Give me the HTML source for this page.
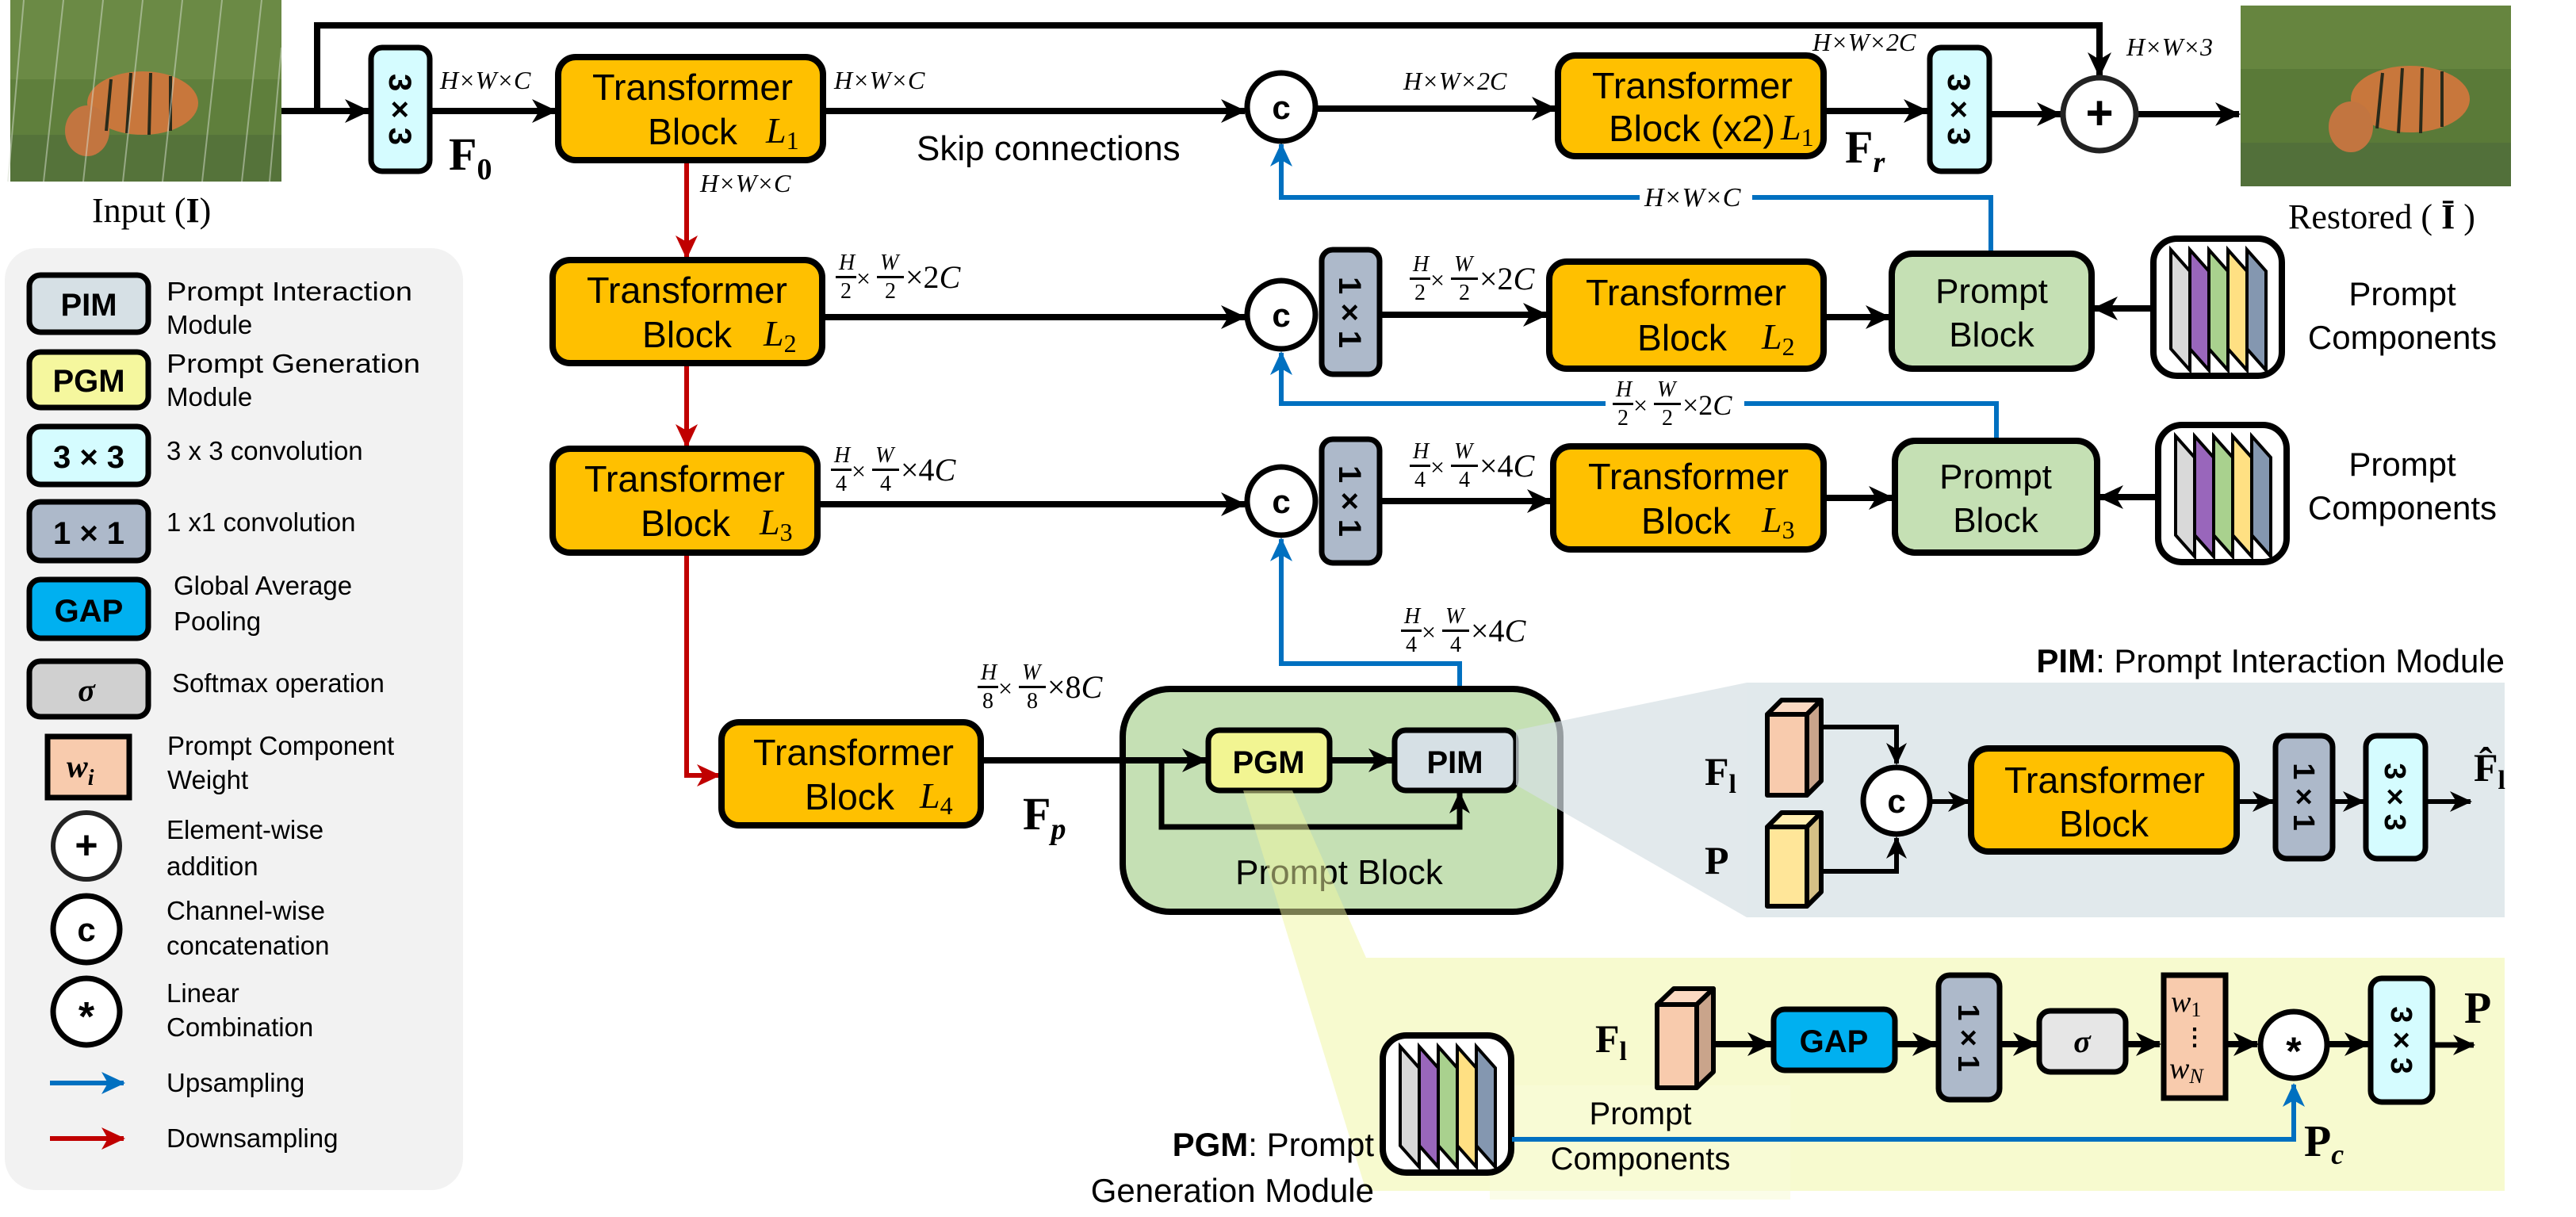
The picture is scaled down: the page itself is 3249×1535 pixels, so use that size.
<!DOCTYPE html>
<html><head><meta charset="utf-8">
<style>
html,body{margin:0;padding:0;background:#fff;}
svg{display:block;}
.s{font-family:"Liberation Sans",sans-serif;}
.m{font-family:"Liberation Serif",serif;font-style:italic;}
.b{font-family:"Liberation Serif",serif;font-weight:bold;}
</style></head><body>
<svg width="3249" height="1535" viewBox="0 0 3249 1535" xmlns="http://www.w3.org/2000/svg">
<defs>
<marker id="a" markerUnits="userSpaceOnUse" markerWidth="34" markerHeight="30" refX="30" refY="15" orient="auto"><path d="M0,0 L32,15 L0,30 L9,15z" fill="#000"/></marker>
<marker id="as" markerUnits="userSpaceOnUse" markerWidth="28" markerHeight="26" refX="26" refY="13" orient="auto"><path d="M0,0 L28,13 L0,26 L8,13z" fill="#000"/></marker>
<marker id="ab" markerUnits="userSpaceOnUse" markerWidth="30" markerHeight="28" refX="28" refY="14" orient="auto"><path d="M0,0 L30,14 L0,28 L8,14z" fill="#0070c0"/></marker>
<marker id="ar" markerUnits="userSpaceOnUse" markerWidth="30" markerHeight="28" refX="28" refY="14" orient="auto"><path d="M0,0 L30,14 L0,28 L8,14z" fill="#c00000"/></marker>
<g id="pc">
<rect x="4" y="4" width="162" height="173" rx="30" fill="#fff" stroke="#000" stroke-width="8"/>
<polygon points="26,18 50,45 50,170 26,143" fill="#d9d9d9" stroke="#000" stroke-width="4"/>
<polygon points="50,18 74,45 74,170 50,143" fill="#9966bb" stroke="#000" stroke-width="4"/>
<polygon points="74,18 98,45 98,170 74,143" fill="#a9d18e" stroke="#000" stroke-width="4"/>
<polygon points="98,18 122,45 122,170 98,143" fill="#ffe083" stroke="#000" stroke-width="4"/>
<polygon points="122,18 146,45 146,170 122,143" fill="#8497b0" stroke="#000" stroke-width="4"/>
</g>
</defs>

<!-- input image -->
<rect x="13" y="0" width="342" height="229" fill="#5f7f3c"/>
<rect x="13" y="0" width="342" height="100" fill="#6b8a45"/>
<rect x="13" y="170" width="342" height="59" fill="#55733a"/>
<ellipse cx="180" cy="130" rx="70" ry="40" fill="#c8773c"/>
<ellipse cx="110" cy="165" rx="28" ry="32" fill="#c27540"/>
<g stroke="#2a2a1a" stroke-width="4"><line x1="140" y1="100" x2="134" y2="165"/><line x1="165" y1="92" x2="160" y2="168"/><line x1="190" y1="92" x2="188" y2="170"/><line x1="215" y1="96" x2="215" y2="165"/></g>
<g stroke="#d8e0d0" stroke-width="2" opacity="0.5"><line x1="30" y1="0" x2="10" y2="229"/><line x1="80" y1="0" x2="55" y2="229"/><line x1="130" y1="0" x2="105" y2="229"/><line x1="180" y1="0" x2="155" y2="229"/><line x1="230" y1="0" x2="205" y2="229"/><line x1="280" y1="0" x2="255" y2="229"/><line x1="330" y1="0" x2="305" y2="229"/><line x1="355" y1="60" x2="340" y2="229"/></g>
<text x="116" y="280" class="b" style="font-weight:normal" font-size="44">Input (<tspan font-weight="bold">I</tspan>)</text>

<!-- restored image -->
<rect x="2826" y="7" width="341" height="228" fill="#5a7a38"/>
<rect x="2826" y="7" width="341" height="80" fill="#66853f"/>
<rect x="2826" y="180" width="341" height="55" fill="#52703a"/>
<ellipse cx="3040" cy="125" rx="75" ry="42" fill="#c8773c"/>
<ellipse cx="2965" cy="160" rx="28" ry="32" fill="#c27540"/>
<g stroke="#2a2a1a" stroke-width="4"><line x1="3005" y1="92" x2="2998" y2="162"/><line x1="3030" y1="86" x2="3025" y2="168"/><line x1="3055" y1="86" x2="3053" y2="168"/><line x1="3080" y1="90" x2="3080" y2="160"/></g>
<text x="2886" y="288" class="b" style="font-weight:normal" font-size="44">Restored ( <tspan font-weight="bold">Ī</tspan> )</text>

<!-- legend -->
<rect x="6" y="313" width="578" height="1188" rx="40" fill="#f2f2f2"/>
<rect x="37" y="347" width="150" height="72" rx="14" fill="#d6e0e5" stroke="#000" stroke-width="7"/>
<text x="112" y="398" class="s" font-size="40" font-weight="bold" text-anchor="middle">PIM</text>
<rect x="37" y="444" width="150" height="70" rx="14" fill="#f5f79e" stroke="#000" stroke-width="7"/>
<text x="112" y="494" class="s" font-size="40" font-weight="bold" text-anchor="middle">PGM</text>
<rect x="37" y="538" width="150" height="73" rx="14" fill="#d5fcff" stroke="#000" stroke-width="7"/>
<text x="112" y="590" class="s" font-size="40" font-weight="bold" text-anchor="middle">3 × 3</text>
<rect x="37" y="633" width="150" height="74" rx="14" fill="#adb9ca" stroke="#000" stroke-width="7"/>
<text x="112" y="686" class="s" font-size="40" font-weight="bold" text-anchor="middle">1 × 1</text>
<rect x="37" y="731" width="150" height="74" rx="14" fill="#00b0f0" stroke="#000" stroke-width="7"/>
<text x="112" y="784" class="s" font-size="40" font-weight="bold" text-anchor="middle">GAP</text>
<rect x="37" y="834" width="150" height="70" rx="14" fill="#d0d0d0" stroke="#000" stroke-width="7"/>
<text x="109" y="884" class="b" font-style="italic" font-size="40" text-anchor="middle">σ</text>
<rect x="60" y="929" width="103" height="77" fill="#f8cbad" stroke="#000" stroke-width="7"/>
<text x="84" y="980" class="b" font-style="italic" font-size="40">w<tspan font-size="28" dy="10">i</tspan></text>
<circle cx="109" cy="1067" r="42" fill="#fff" stroke="#222" stroke-width="6"/>
<text x="109" y="1083" class="s" font-size="50" font-weight="bold" text-anchor="middle">+</text>
<circle cx="109" cy="1172" r="42" fill="#fff" stroke="#000" stroke-width="7"/>
<text x="109" y="1187" class="s" font-size="42" font-weight="bold" text-anchor="middle">c</text>
<circle cx="109" cy="1276" r="42" fill="#fff" stroke="#000" stroke-width="7"/>
<text x="109" y="1300" class="s" font-size="52" font-weight="bold" text-anchor="middle">*</text>
<line x1="63" y1="1366" x2="156" y2="1366" stroke="#0070c0" stroke-width="6" marker-end="url(#ab)"/>
<line x1="63" y1="1436" x2="156" y2="1436" stroke="#c00000" stroke-width="6" marker-end="url(#ar)"/>
<g class="s" font-size="33">
<text x="210" y="379" textLength="310" lengthAdjust="spacingAndGlyphs">Prompt Interaction</text><text x="210" y="421">Module</text>
<text x="210" y="470" textLength="320" lengthAdjust="spacingAndGlyphs">Prompt Generation</text><text x="210" y="512">Module</text>
<text x="210" y="580">3 x 3 convolution</text>
<text x="210" y="670">1 x1 convolution</text>
<text x="219" y="750">Global Average</text><text x="219" y="795">Pooling</text>
<text x="217" y="873">Softmax operation</text>
<text x="211" y="952">Prompt Component</text><text x="211" y="995">Weight</text>
<text x="210" y="1058">Element-wise</text><text x="210" y="1104">addition</text>
<text x="210" y="1160">Channel-wise</text><text x="210" y="1204">concatenation</text>
<text x="210" y="1264">Linear</text><text x="210" y="1307">Combination</text>
<text x="210" y="1377">Upsampling</text>
<text x="210" y="1447">Downsampling</text>
</g>

<!-- top row connectors -->
<path d="M355,140 H465" stroke="#000" stroke-width="8" fill="none" marker-end="url(#a)"/>
<path d="M400,140 V32 H2648 V96" stroke="#000" stroke-width="8" fill="none" marker-end="url(#a)"/>
<path d="M542,140 H701" stroke="#000" stroke-width="8" fill="none" marker-end="url(#a)"/>
<path d="M1038,140 H1570" stroke="#000" stroke-width="8" fill="none" marker-end="url(#a)"/>
<path d="M1660,137 H1962" stroke="#000" stroke-width="8" fill="none" marker-end="url(#a)"/>
<path d="M2300,140 H2431" stroke="#000" stroke-width="8" fill="none" marker-end="url(#a)"/>
<path d="M2509,144 H2599" stroke="#000" stroke-width="8" fill="none" marker-end="url(#a)"/>
<path d="M2694,144 H2824" stroke="#000" stroke-width="8" fill="none" marker-end="url(#a)"/>

<!-- red downsampling -->
<path d="M866,202 V325" stroke="#c00000" stroke-width="6" fill="none" marker-end="url(#ar)"/>
<path d="M866,458 V563" stroke="#c00000" stroke-width="6" fill="none" marker-end="url(#ar)"/>
<path d="M866,697 V978 H907" stroke="#c00000" stroke-width="6" fill="none" marker-end="url(#ar)"/>

<!-- blue upsampling -->
<path d="M2511,320 V249 H2210 M2068,249 H1616 V182" stroke="#0070c0" stroke-width="6" fill="none" marker-end="url(#ab)"/>
<path d="M2518,556 V509 H2200 M2025,509 H1616 V445" stroke="#0070c0" stroke-width="6" fill="none" marker-end="url(#ab)"/>
<path d="M1841,915 V837 H1616 V680" stroke="#0070c0" stroke-width="6" fill="none" marker-end="url(#ab)"/>

<!-- row connectors -->
<path d="M1037,400 H1570" stroke="#000" stroke-width="8" fill="none" marker-end="url(#a)"/>
<path d="M1740,397 H1951" stroke="#000" stroke-width="8" fill="none" marker-end="url(#a)"/>
<path d="M2300,400 H2383" stroke="#000" stroke-width="8" fill="none" marker-end="url(#a)"/>
<path d="M2712,389 H2641" stroke="#000" stroke-width="8" fill="none" marker-end="url(#a)"/>
<path d="M1031,636 H1570" stroke="#000" stroke-width="8" fill="none" marker-end="url(#a)"/>
<path d="M1740,632 H1956" stroke="#000" stroke-width="8" fill="none" marker-end="url(#a)"/>
<path d="M2300,628 H2387" stroke="#000" stroke-width="8" fill="none" marker-end="url(#a)"/>
<path d="M2718,627 H2648" stroke="#000" stroke-width="8" fill="none" marker-end="url(#a)"/>

<!-- conv boxes row 1 -->
<rect x="468" y="60" width="74" height="156" rx="14" fill="#d5fcff" stroke="#000" stroke-width="7"/>
<text transform="translate(505,138) rotate(90)" class="s" font-size="40" font-weight="bold" text-anchor="middle" dy="14">3 × 3</text>
<rect x="2434" y="60" width="75" height="156" rx="14" fill="#d5fcff" stroke="#000" stroke-width="7"/>
<text transform="translate(2471,138) rotate(90)" class="s" font-size="40" font-weight="bold" text-anchor="middle" dy="14">3 × 3</text>

<!-- transformer blocks -->
<rect x="704" y="72" width="334" height="130" rx="22" fill="#ffc000" stroke="#000" stroke-width="8"/>
<text x="747" y="126" class="s" font-size="46" textLength="253" lengthAdjust="spacingAndGlyphs">Transformer</text>
<text x="817" y="182" class="s" font-size="46" textLength="113" lengthAdjust="spacingAndGlyphs">Block</text>
<text x="966" y="180" class="m" font-size="46">L<tspan font-size="32" dy="8" font-style="normal">1</tspan></text>

<rect x="697" y="328" width="340" height="130" rx="22" fill="#ffc000" stroke="#000" stroke-width="8"/>
<text x="740" y="382" class="s" font-size="46" textLength="253" lengthAdjust="spacingAndGlyphs">Transformer</text>
<text x="810" y="438" class="s" font-size="46" textLength="113" lengthAdjust="spacingAndGlyphs">Block</text>
<text x="963" y="436" class="m" font-size="46">L<tspan font-size="32" dy="8" font-style="normal">2</tspan></text>

<rect x="697" y="566" width="334" height="131" rx="22" fill="#ffc000" stroke="#000" stroke-width="8"/>
<text x="737" y="620" class="s" font-size="46" textLength="253" lengthAdjust="spacingAndGlyphs">Transformer</text>
<text x="808" y="676" class="s" font-size="46" textLength="113" lengthAdjust="spacingAndGlyphs">Block</text>
<text x="958" y="674" class="m" font-size="46">L<tspan font-size="32" dy="8" font-style="normal">3</tspan></text>

<rect x="910" y="911" width="327" height="130" rx="22" fill="#ffc000" stroke="#000" stroke-width="8"/>
<text x="950" y="965" class="s" font-size="46" textLength="253" lengthAdjust="spacingAndGlyphs">Transformer</text>
<text x="1015" y="1021" class="s" font-size="46" textLength="113" lengthAdjust="spacingAndGlyphs">Block</text>
<text x="1160" y="1019" class="m" font-size="46">L<tspan font-size="32" dy="8" font-style="normal">4</tspan></text>

<rect x="1965" y="70" width="335" height="127" rx="22" fill="#ffc000" stroke="#000" stroke-width="8"/>
<text x="2008" y="124" class="s" font-size="46" textLength="253" lengthAdjust="spacingAndGlyphs">Transformer</text>
<text x="2029" y="178" class="s" font-size="46" textLength="210" lengthAdjust="spacingAndGlyphs">Block (x2)</text>
<text x="2246" y="176" class="m" font-size="46">L<tspan font-size="32" dy="8" font-style="normal">1</tspan></text>

<rect x="1954" y="330" width="346" height="135" rx="22" fill="#ffc000" stroke="#000" stroke-width="8"/>
<text x="2000" y="385" class="s" font-size="46" textLength="253" lengthAdjust="spacingAndGlyphs">Transformer</text>
<text x="2065" y="442" class="s" font-size="46" textLength="113" lengthAdjust="spacingAndGlyphs">Block</text>
<text x="2222" y="440" class="m" font-size="46">L<tspan font-size="32" dy="8" font-style="normal">2</tspan></text>

<rect x="1959" y="563" width="341" height="130" rx="22" fill="#ffc000" stroke="#000" stroke-width="8"/>
<text x="2003" y="617" class="s" font-size="46" textLength="253" lengthAdjust="spacingAndGlyphs">Transformer</text>
<text x="2070" y="673" class="s" font-size="46" textLength="113" lengthAdjust="spacingAndGlyphs">Block</text>
<text x="2222" y="671" class="m" font-size="46">L<tspan font-size="32" dy="8" font-style="normal">3</tspan></text>

<!-- concat circles & 1x1 -->
<circle cx="1616" cy="135" r="43" fill="#fff" stroke="#000" stroke-width="7"/>
<text x="1616" y="150" class="s" font-size="42" font-weight="bold" text-anchor="middle">c</text>
<circle cx="1616" cy="397" r="43" fill="#fff" stroke="#000" stroke-width="7"/>
<text x="1616" y="412" class="s" font-size="42" font-weight="bold" text-anchor="middle">c</text>
<circle cx="1616" cy="632" r="43" fill="#fff" stroke="#000" stroke-width="7"/>
<text x="1616" y="647" class="s" font-size="42" font-weight="bold" text-anchor="middle">c</text>
<rect x="1667" y="315" width="73" height="157" rx="14" fill="#adb9ca" stroke="#000" stroke-width="7"/>
<text transform="translate(1703,394) rotate(90)" class="s" font-size="40" font-weight="bold" text-anchor="middle" dy="14">1 × 1</text>
<rect x="1667" y="554" width="73" height="156" rx="14" fill="#adb9ca" stroke="#000" stroke-width="7"/>
<text transform="translate(1703,632) rotate(90)" class="s" font-size="40" font-weight="bold" text-anchor="middle" dy="14">1 × 1</text>

<circle cx="2648" cy="144" r="46" fill="#fff" stroke="#222" stroke-width="7"/>
<text x="2648" y="163" class="s" font-size="60" font-weight="bold" text-anchor="middle">+</text>

<!-- prompt blocks -->
<rect x="2386" y="320" width="252" height="145" rx="26" fill="#c5e0b4" stroke="#000" stroke-width="8"/>
<text x="2512" y="382" class="s" font-size="44" text-anchor="middle">Prompt</text>
<text x="2512" y="437" class="s" font-size="44" text-anchor="middle">Block</text>
<rect x="2390" y="556" width="255" height="141" rx="26" fill="#c5e0b4" stroke="#000" stroke-width="8"/>
<text x="2517" y="616" class="s" font-size="44" text-anchor="middle">Prompt</text>
<text x="2517" y="671" class="s" font-size="44" text-anchor="middle">Block</text>
<use href="#pc" x="2712" y="297"/>
<use href="#pc" x="2718" y="532"/>
<g class="s" font-size="42" text-anchor="middle">
<text x="3030" y="385">Prompt</text><text x="3030" y="440">Components</text>
<text x="3030" y="600">Prompt</text><text x="3030" y="655">Components</text>
</g>

<!-- dimension labels -->
<g class="m" font-size="32">
<text x="555" y="112">H×W×C</text>
<text x="1052" y="112">H×W×C</text>
<text x="883" y="242">H×W×C</text>
<text x="1770" y="113">H×W×2C</text>
<text x="2286" y="64">H×W×2C</text>
<text x="2682" y="70">H×W×3</text>
<text x="2074" y="260" font-size="34">H×W×C</text>
</g>
<text x="1156" y="202" class="s" font-size="44">Skip connections</text>
<text x="566" y="214" class="b" font-size="58">F<tspan font-size="38" dy="12">0</tspan></text>
<text x="2327" y="205" class="b" font-size="58">F<tspan font-size="38" dy="12" font-style="italic">r</tspan></text>
<text x="1290" y="1046" class="b" font-size="58">F<tspan font-size="38" dy="12" font-style="italic">p</tspan></text>

<!-- fractional labels -->
<g class="m" font-size="28">
<g transform="translate(1054,350)"><text x="4" y="-10">H</text><rect x="0" y="-2" width="26" height="3"/><text x="6" y="26" font-style="normal">2</text><text x="26" y="12" font-size="32" font-style="normal">×</text><text x="56" y="-10">W</text><rect x="52" y="-2" width="34" height="3"/><text x="62" y="26" font-style="normal">2</text><text x="88" y="13" font-size="40"><tspan font-style="normal">×2</tspan>C</text></g>
<g transform="translate(1778,352)"><text x="4" y="-10">H</text><rect x="0" y="-2" width="26" height="3"/><text x="6" y="26" font-style="normal">2</text><text x="26" y="12" font-size="32" font-style="normal">×</text><text x="56" y="-10">W</text><rect x="52" y="-2" width="34" height="3"/><text x="62" y="26" font-style="normal">2</text><text x="88" y="13" font-size="40"><tspan font-style="normal">×2</tspan>C</text></g>
<g transform="translate(2034,510)"><text x="4" y="-10">H</text><rect x="0" y="-2" width="26" height="3"/><text x="6" y="26" font-style="normal">2</text><text x="26" y="12" font-size="32" font-style="normal">×</text><text x="56" y="-10">W</text><rect x="52" y="-2" width="34" height="3"/><text x="62" y="26" font-style="normal">2</text><text x="88" y="13" font-size="36"><tspan font-style="normal">×2</tspan>C</text></g>
<g transform="translate(1048,593)"><text x="4" y="-10">H</text><rect x="0" y="-2" width="26" height="3"/><text x="6" y="26" font-style="normal">4</text><text x="26" y="12" font-size="32" font-style="normal">×</text><text x="56" y="-10">W</text><rect x="52" y="-2" width="34" height="3"/><text x="62" y="26" font-style="normal">4</text><text x="88" y="13" font-size="40"><tspan font-style="normal">×4</tspan>C</text></g>
<g transform="translate(1778,588)"><text x="4" y="-10">H</text><rect x="0" y="-2" width="26" height="3"/><text x="6" y="26" font-style="normal">4</text><text x="26" y="12" font-size="32" font-style="normal">×</text><text x="56" y="-10">W</text><rect x="52" y="-2" width="34" height="3"/><text x="62" y="26" font-style="normal">4</text><text x="88" y="13" font-size="40"><tspan font-style="normal">×4</tspan>C</text></g>
<g transform="translate(1767,796)"><text x="4" y="-10">H</text><rect x="0" y="-2" width="26" height="3"/><text x="6" y="26" font-style="normal">4</text><text x="26" y="12" font-size="32" font-style="normal">×</text><text x="56" y="-10">W</text><rect x="52" y="-2" width="34" height="3"/><text x="62" y="26" font-style="normal">4</text><text x="88" y="13" font-size="40"><tspan font-style="normal">×4</tspan>C</text></g>
<g transform="translate(1233,867)"><text x="4" y="-10">H</text><rect x="0" y="-2" width="26" height="3"/><text x="6" y="26" font-style="normal">8</text><text x="26" y="12" font-size="32" font-style="normal">×</text><text x="56" y="-10">W</text><rect x="52" y="-2" width="34" height="3"/><text x="62" y="26" font-style="normal">8</text><text x="88" y="13" font-size="40"><tspan font-style="normal">×8</tspan>C</text></g>
</g>

<!-- big prompt block -->
<rect x="1416" y="869" width="552" height="281" rx="60" fill="#c5e0b4" stroke="#000" stroke-width="8"/>
<text x="1689" y="1115" class="s" font-size="44" text-anchor="middle">Prompt Block</text>
<path d="M1237,959 H1521" stroke="#000" stroke-width="8" fill="none" marker-end="url(#a)"/>
<path d="M1677,959 H1756" stroke="#000" stroke-width="8" fill="none" marker-end="url(#a)"/>
<path d="M1465,959 V1043 H1841 V1000" stroke="#000" stroke-width="7" fill="none" marker-end="url(#as)"/>
<rect x="1524" y="921" width="153" height="76" rx="14" fill="#f2f592" stroke="#000" stroke-width="7"/>
<text x="1600" y="975" class="s" font-size="40" font-weight="bold" text-anchor="middle">PGM</text>
<rect x="1759" y="921" width="153" height="76" rx="14" fill="#d6e0e5" stroke="#000" stroke-width="7"/>
<text x="1835" y="975" class="s" font-size="40" font-weight="bold" text-anchor="middle">PIM</text>

<!-- PIM panel -->
<polygon points="1912,921 2203,861 2203,1157 1912,990" fill="#d5dfe4" opacity="0.7"/>
<rect x="2203" y="861" width="956" height="296" fill="#e1e9ec"/>
<text x="3159" y="848" class="s" font-size="42" text-anchor="end"><tspan font-weight="bold">PIM</tspan>: Prompt Interaction Module</text>
<text x="2150" y="990" class="b" font-size="50">F<tspan font-size="34" dy="10">l</tspan></text>
<text x="2150" y="1102" class="b" font-size="50">P</text>
<g stroke="#000" stroke-width="6" stroke-linejoin="round">
<polygon points="2229,901 2279,901 2279,1003 2229,1003" fill="#f8cbad"/>
<polygon points="2229,901 2247,883 2297,883 2279,901" fill="#fbd9c2"/>
<polygon points="2279,901 2297,883 2297,985 2279,1003" fill="#c9a48b"/>
<polygon points="2229,1043 2279,1043 2279,1143 2229,1143" fill="#ffe699"/>
<polygon points="2229,1043 2247,1025 2297,1025 2279,1043" fill="#ffedb0"/>
<polygon points="2279,1043 2297,1025 2297,1125 2279,1143" fill="#d6c086"/>
</g>
<path d="M2297,917 H2392 V963" stroke="#000" stroke-width="6" fill="none" marker-end="url(#as)"/>
<path d="M2297,1099 H2392 V1057" stroke="#000" stroke-width="6" fill="none" marker-end="url(#as)"/>
<circle cx="2392" cy="1010" r="42" fill="#fff" stroke="#000" stroke-width="7"/>
<text x="2392" y="1025" class="s" font-size="42" font-weight="bold" text-anchor="middle">c</text>
<path d="M2434,1011 H2483" stroke="#000" stroke-width="6" fill="none" marker-end="url(#as)"/>
<rect x="2486" y="944" width="335" height="130" rx="22" fill="#ffc000" stroke="#000" stroke-width="8"/>
<text x="2528" y="1000" class="s" font-size="46" textLength="253" lengthAdjust="spacingAndGlyphs">Transformer</text>
<text x="2597" y="1055" class="s" font-size="46" textLength="113" lengthAdjust="spacingAndGlyphs">Block</text>
<path d="M2821,1011 H2867" stroke="#000" stroke-width="6" fill="none" marker-end="url(#as)"/>
<rect x="2870" y="928" width="72" height="155" rx="14" fill="#adb9ca" stroke="#000" stroke-width="7"/>
<text transform="translate(2906,1005) rotate(90)" class="s" font-size="38" font-weight="bold" text-anchor="middle" dy="13">1 × 1</text>
<path d="M2942,1011 H2981" stroke="#000" stroke-width="6" fill="none" marker-end="url(#as)"/>
<rect x="2984" y="928" width="75" height="155" rx="14" fill="#d5fcff" stroke="#000" stroke-width="7"/>
<text transform="translate(3021,1005) rotate(90)" class="s" font-size="38" font-weight="bold" text-anchor="middle" dy="13">3 × 3</text>
<path d="M3059,1011 H3116" stroke="#000" stroke-width="6" fill="none" marker-end="url(#as)"/>
<text x="3120" y="985" class="b" font-size="50">F̂<tspan font-size="34" dy="10">l</tspan></text>

<!-- PGM panel -->
<polygon points="1568,997 1630,997 1723,1208 3159,1208 3159,1502 1723,1502" fill="rgb(240,245,160)" opacity="0.5"/>
<rect x="1879" y="1369" width="379" height="144" fill="#f9fbd8" opacity="0.6"/>
<text x="1733" y="1458" class="s" font-size="42" text-anchor="end"><tspan font-weight="bold">PGM</tspan>: Prompt</text>
<text x="1733" y="1516" class="s" font-size="42" text-anchor="end">Generation Module</text>
<use href="#pc" x="1740" y="1302"/>
<path d="M1907,1437 H2893 V1368" stroke="#0070c0" stroke-width="6" fill="none" marker-end="url(#ab)"/>
<text x="2069" y="1418" class="s" font-size="40" text-anchor="middle">Prompt</text>
<text x="2069" y="1475" class="s" font-size="40" text-anchor="middle">Components</text>
<text x="2012" y="1327" class="b" font-size="50">F<tspan font-size="34" dy="10">l</tspan></text>
<g stroke="#000" stroke-width="6" stroke-linejoin="round">
<polygon points="2090,1267 2140,1267 2140,1372 2090,1372" fill="#f8cbad"/>
<polygon points="2090,1267 2111,1247 2161,1247 2140,1267" fill="#fbd9c2"/>
<polygon points="2140,1267 2161,1247 2161,1352 2140,1372" fill="#c9a48b"/>
</g>
<path d="M2161,1317 H2234" stroke="#000" stroke-width="8" fill="none" marker-end="url(#a)"/>
<rect x="2237" y="1273" width="153" height="77" rx="14" fill="#00b0f0" stroke="#000" stroke-width="7"/>
<text x="2313" y="1327" class="s" font-size="40" font-weight="bold" text-anchor="middle">GAP</text>
<path d="M2390,1317 H2442" stroke="#000" stroke-width="8" fill="none" marker-end="url(#a)"/>
<rect x="2445" y="1230" width="77" height="157" rx="14" fill="#adb9ca" stroke="#000" stroke-width="7"/>
<text transform="translate(2483,1309) rotate(90)" class="s" font-size="38" font-weight="bold" text-anchor="middle" dy="13">1 × 1</text>
<path d="M2522,1317 H2569" stroke="#000" stroke-width="8" fill="none" marker-end="url(#a)"/>
<rect x="2572" y="1275" width="109" height="77" rx="14" fill="#e6e6e6" stroke="#000" stroke-width="7"/>
<text x="2626" y="1327" class="b" font-style="italic" font-size="40" text-anchor="middle">σ</text>
<path d="M2681,1317 H2724" stroke="#000" stroke-width="8" fill="none" marker-end="url(#a)"/>
<rect x="2729" y="1230" width="78" height="155" fill="#f8cbad" stroke="#000" stroke-width="7"/>
<text x="2738" y="1276" class="m" font-size="38">w<tspan font-size="26" dy="6" font-style="normal">1</tspan></text>
<text x="2768" y="1318" class="s" font-size="30" font-weight="bold" text-anchor="middle">⋮</text>
<text x="2736" y="1360" class="m" font-size="38">w<tspan font-size="26" dy="6">N</tspan></text>
<path d="M2807,1317 H2847" stroke="#000" stroke-width="8" fill="none" marker-end="url(#a)"/>
<circle cx="2893" cy="1318" r="42" fill="#fff" stroke="#000" stroke-width="7"/>
<text x="2893" y="1343" class="s" font-size="50" font-weight="bold" text-anchor="middle">*</text>
<path d="M2935,1317 H2987" stroke="#000" stroke-width="8" fill="none" marker-end="url(#a)"/>
<rect x="2990" y="1234" width="78" height="156" rx="14" fill="#d5fcff" stroke="#000" stroke-width="7"/>
<text transform="translate(3029,1312) rotate(90)" class="s" font-size="38" font-weight="bold" text-anchor="middle" dy="13">3 × 3</text>
<path d="M3068,1318 H3120" stroke="#000" stroke-width="7" fill="none" marker-end="url(#as)"/>
<text x="3108" y="1290" class="b" font-size="56">P</text>
<text x="2906" y="1458" class="b" font-size="56">P<tspan font-size="36" dy="10" font-style="italic">c</tspan></text>
</svg>
</body></html>
